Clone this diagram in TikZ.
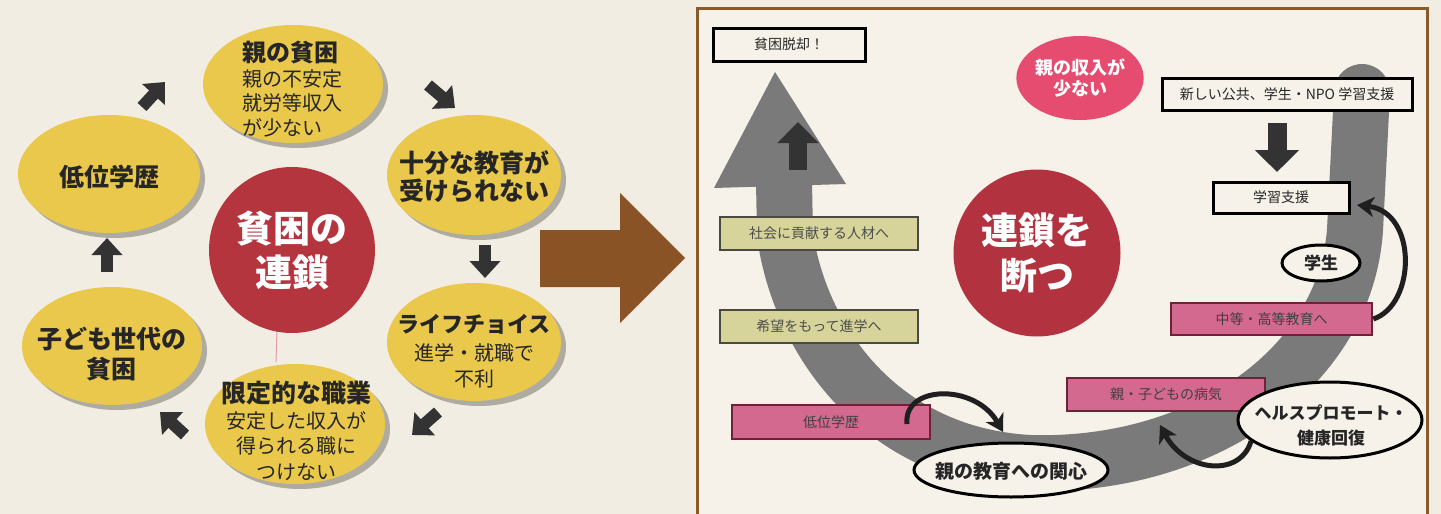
\documentclass[tikz,border=0pt]{standalone}
\usepackage{fontspec}
\newfontfamily\jp{Noto Sans CJK JP}
\usetikzlibrary{arrows.meta,shapes.geometric,shadows}
\definecolor{bg}{HTML}{F2EDE2}
\definecolor{yel}{HTML}{E9C84C}
\definecolor{darkarr}{HTML}{333333}
\definecolor{redL}{HTML}{B5353F}
\definecolor{brownA}{HTML}{8A5326}
\definecolor{frameC}{HTML}{8B5A2B}
\definecolor{panel}{HTML}{F6F2E9}
\definecolor{grayU}{HTML}{7A7A7A}
\definecolor{pinkC}{HTML}{E64B70}
\definecolor{redR}{HTML}{B2323F}
\definecolor{pinkB}{HTML}{D4698F}
\definecolor{pinkBorder}{HTML}{6E2236}
\definecolor{khaki}{HTML}{D6D49A}
\definecolor{khakiBorder}{HTML}{4A4A40}
\definecolor{txt}{HTML}{262626}
\definecolor{strayPink}{HTML}{E59AA8}
\newcommand{\fsz}[2]{\fontsize{#1}{#2}\selectfont}
\begin{document}
\begin{tikzpicture}[x=1pt,y=-1pt,font=\jp,
  yell/.style={ellipse,fill=yel,inner sep=0pt,
    drop shadow={shadow xshift=5pt,shadow yshift=-5pt,opacity=0.28,fill=black}},
  ltxt/.style={text=txt,inner sep=0pt,align=center},
  blockarr/.style={draw=darkarr,line width=12pt,-{Triangle[length=17pt,width=30pt]}},
  wbox/.style={draw=black,line width=3pt,fill=panel,inner sep=0pt,text=txt,font=\jp\fsz{14}{16}},
  kbox/.style={draw=khakiBorder,line width=2.5pt,fill=khaki,inner sep=0pt,text=black!70,font=\jp\fsz{14}{16}},
  pbox/.style={draw=pinkBorder,line width=2.5pt,fill=pinkB,inner sep=0pt,text=black!75,font=\jp\fsz{14}{16}},
  wellip/.style={ellipse,draw=black,line width=3pt,fill=panel,inner sep=0pt},
  curvearr/.style={draw=black!88,line width=5pt,-{Stealth[length=17pt,width=20pt,inset=5pt]}}
]
\useasboundingbox (0,0) rectangle (1441,514);
\fill[bg] (0,0) rectangle (1441,514);

% ---------- left panel ----------
\node[yell,minimum width=180pt,minimum height=118pt] (oya) at (293,84) {};
\node[ltxt,align=left,font=\jp\fsz{20}{24.5}] (oyat) at (292,89)
  {{\fsz{24}{24.5}\bfseries 親の貧困}\\親の不安定\\就労等収入\\が少ない};

\node[yell,minimum width=174pt,minimum height=120pt] (jub) at (474,175) {};
\node[ltxt,font=\jp\fsz{25}{28}\bfseries] (jubt) at (474,177) {十分な教育が\\受けられない};

\node[yell,minimum width=174pt,minimum height=118pt] (life) at (474,342) {};
\node[ltxt,font=\jp\fsz{20}{25.5}] (lifet) at (474,351)
  {{\fsz{22}{25}\bfseries ライフチョイス}\\[3pt]進学・就職で\\不利};

\node[yell,minimum width=180pt,minimum height=120pt] (gentei) at (295,424) {};
\node[ltxt,font=\jp\fsz{20}{25.5}] (genteit) at (296,431)
  {{\fsz{25}{25}\bfseries 限定的な職業}\\安定した収入が\\得られる職に\\つけない};

\node[yell,minimum width=180pt,minimum height=118pt] (kodomo) at (112,346) {};
\node[ltxt,font=\jp\fsz{25}{30}\bfseries] (kodomot) at (112,354) {子ども世代の\\貧困};

\node[yell,minimum width=182pt,minimum height=118pt] (teii) at (109,174) {};
\node[ltxt,font=\jp\fsz{25}{28}\bfseries] (teiit) at (109,177) {低位学歴};

\draw[strayPink,line width=1pt] (277,330) -- (276,362);
\node[circle,fill=redL,minimum size=166pt,inner sep=0pt,text=white,align=center,
  font=\jp\fsz{37}{44}\bfseries] (hinkon) at (292,250) {貧困の\\連鎖};

\coordinate (a1s) at (142,107); \coordinate (a1e) at (165,82);
\coordinate (a2s) at (428,85);  \coordinate (a2e) at (455,108);
\coordinate (a3s) at (485,245); \coordinate (a3e) at (485,278);
\coordinate (a4s) at (438,412); \coordinate (a4e) at (412,435);
\coordinate (a5s) at (185,435); \coordinate (a5e) at (160,412);
\coordinate (a6s) at (107,272); \coordinate (a6e) at (107,238);
\foreach \i in {1,...,6} {\draw[blockarr] (a\i s) -- (a\i e);}

% ---------- big brown arrow ----------
\fill[brownA] (540,230) -- (620,230) -- (620,193) -- (685,258) -- (620,323) -- (620,287) -- (540,287) -- cycle;

% ---------- right panel ----------
\draw[frameC,line width=3pt,fill=panel] (697,8) rectangle (1427,520);

% gray U-shaped arrow
\fill[grayU] (775,72) -- (714,188) -- (846,184) -- cycle;
\draw[grayU,line width=56pt,line cap=round]
  (784,182) -- (785,235) .. controls (800,340) and (880,455) .. (1030,463)
  .. controls (1200,468) and (1345,370) .. (1355,230) -- (1362,92);

\node[wbox,minimum width=152pt,minimum height=33pt] (dakkyaku) at (789,44.5) {貧困脱却！};
\node[kbox,minimum width=198pt,minimum height=33pt] (shakai) at (819,233.5) {社会に貢献する人材へ};
\node[kbox,minimum width=198pt,minimum height=33pt] (kibou) at (819,326.5) {希望をもって進学へ};
\node[pbox,minimum width=198pt,minimum height=34pt] (teiib) at (831,422) {低位学歴};
\node[pbox,minimum width=198pt,minimum height=33pt] (byouki) at (1166,394.5) {親・子どもの病気};
\node[pbox,minimum width=201pt,minimum height=32pt] (chutou) at (1271.5,319) {中等・高等教育へ};
\node[wbox,minimum width=250pt,minimum height=32pt] (atarashii) at (1287,94) {新しい公共、学生・NPO 学習支援};
\node[wbox,minimum width=136pt,minimum height=31pt] (gakushu) at (1281,197.5) {学習支援};

\node[ellipse,fill=pinkC,minimum width=126pt,minimum height=84pt,inner sep=0pt,text=white,
  align=center,font=\jp\fsz{18}{21}\bfseries] (shunyu) at (1080,78) {親の収入が\\少ない};
\node[circle,fill=redR,minimum size=167pt,inner sep=0pt,text=white,align=center,
  font=\jp\fsz{37}{45}\bfseries] (rensa) at (1037,253) {連鎖を\\断つ};

\node[wellip,minimum width=78pt,minimum height=36pt] (gakusei) at (1321,263) {};
\node[ltxt,font=\jp\fsz{17}{20}\bfseries] (gakuseit) at (1321,263) {学生};
\node[wellip,minimum width=194pt,minimum height=54pt] (kanshin) at (1011,470) {};
\node[ltxt,font=\jp\fsz{19}{22}\bfseries] (kanshint) at (1011,471) {親の教育への関心};
\node[wellip,minimum width=184pt,minimum height=76pt] (health) at (1330,420) {};
\node[ltxt,font=\jp\fsz{17}{25}\bfseries] (healtht) at (1331,425) {ヘルスプロモート・\\健康回復};

% small block arrows
\coordinate (u1s) at (798,170); \coordinate (u1e) at (798,122);
\draw[draw=darkarr,line width=18pt,-{Triangle[length=21pt,width=40pt]}] (u1s) -- (u1e);
\coordinate (d1s) at (1277,123); \coordinate (d1e) at (1277,172);
\draw[draw=darkarr,line width=19pt,-{Triangle[length=22pt,width=43pt]}] (d1s) -- (d1e);

% curved arrows
\coordinate (c1s) at (907,424); \coordinate (c1e) at (1003,432);
\draw[curvearr] (c1s) .. controls (903,385) and (975,383) .. (c1e);
\coordinate (c2e) at (1357,205);
\draw[curvearr] (chutou.east) .. controls (1416,305) and (1418,212) .. (c2e);
\coordinate (c3e) at (1160,425);
\draw[curvearr] (health.195) .. controls (1240,478) and (1185,472) .. (c3e);
\end{tikzpicture}
\end{document}
